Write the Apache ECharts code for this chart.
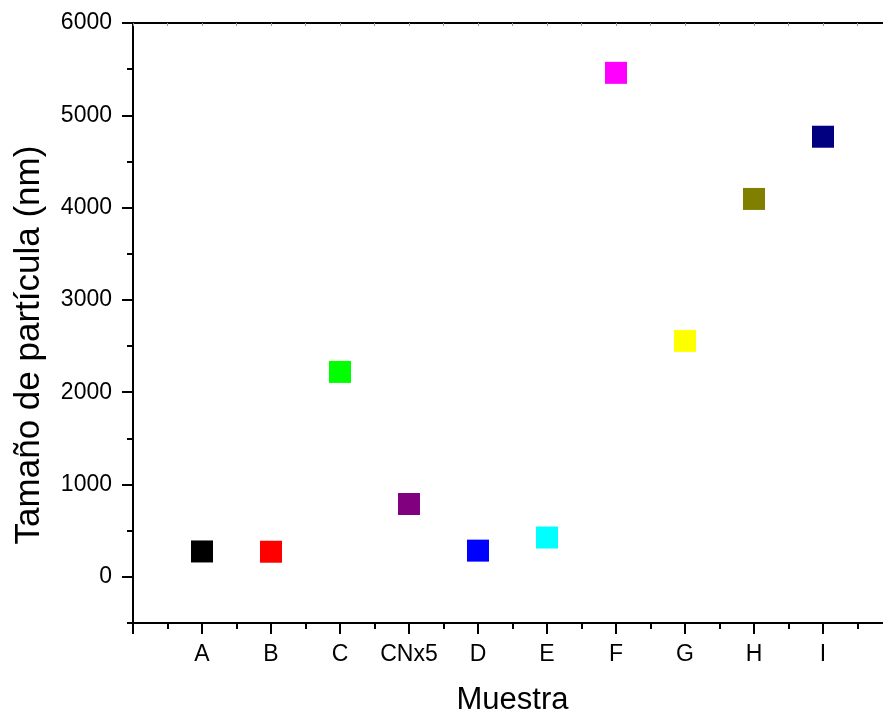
<!DOCTYPE html>
<html><head><meta charset="utf-8">
<script src="https://cdn.jsdelivr.net/npm/echarts@6/dist/echarts.min.js"></script>
<style>html,body{margin:0;padding:0;background:#fff}#c{width:883px;height:721px}</style>
</head><body><div id="c"></div>
<script>
const categories = ['A','B','C','CNx5','D','E','F','G','H','I'];
const sizes = [275, 272, 2220, 789, 284, 426, 5460, 2556, 4094, 4768];
const colors = ['#000000','#ff0000','#00ff00','#800080','#0000ff','#00ffff','#ff00ff','#ffff00','#808000','#000080'];
const yTicks = [0,1000,2000,3000,4000,5000,6000];
const yMinorTicks = [-500,500,1500,2500,3500,4500,5500];

const chart = echarts.init(document.getElementById('c'), null, {renderer:'canvas'});
const font = 'Liberation Sans, Arial, sans-serif';
chart.setOption({
  animation:false,
  backgroundColor:'#fff',
  grid:{left:133, top:23, width:759, height:600, containLabel:false, outerBoundsMode:'none'},
  xAxis:[{
    type:'value', position:'bottom', min:0, max:11, interval:1,
    name:'Muestra', nameLocation:'middle', nameGap:62,
    nameTextStyle:{fontFamily:font, fontSize:31, color:'#000'},
    axisLine:{onZero:false, lineStyle:{color:'#000', width:2}},
    axisTick:{inside:false, length:11, lineStyle:{color:'#000', width:2}},
    minorTick:{show:true, splitNumber:2, length:6, lineStyle:{color:'#000', width:2}},
    splitLine:{show:false},
    axisLabel:{margin:20, fontFamily:font, fontSize:23, color:'#000',
      formatter:v=> (v>=1 && v<=categories.length) ? categories[v-1] : ''}
  },{
    type:'value', position:'top', min:0, max:11, interval:1,
    axisLine:{onZero:false, lineStyle:{color:'#000', width:2}},
    axisTick:{inside:true, length:3, lineStyle:{color:'#999', width:1}},
    minorTick:{show:true, splitNumber:2, length:3, lineStyle:{color:'#999', width:1}},
    splitLine:{show:false}, axisLabel:{show:false}
  }],
  yAxis:[{
    type:'value', position:'left', min:-500, max:6000, interval:500,
    name:'Tamaño de partícula (nm)', nameLocation:'middle', nameGap:86,
    nameTextStyle:{fontFamily:font, fontSize:35, color:'#000', padding:[0,44,0,0]},
    axisLine:{show:true, onZero:false, lineStyle:{color:'#000', width:2}},
    axisTick:{show:true, inside:false, length:11, customValues:yTicks, lineStyle:{color:'#000', width:2}},
    splitLine:{show:false},
    axisLabel:{margin:21, fontFamily:font, fontSize:23, color:'#000', customValues:yTicks,
      formatter:v=>String(v)}
  },{
    type:'value', position:'left', offset:0, min:-500, max:6000, interval:500,
    axisLine:{show:false, onZero:false},
    axisTick:{show:true, inside:false, length:6, customValues:yMinorTicks, lineStyle:{color:'#000', width:2}},
    splitLine:{show:false},
    axisLabel:{show:false}
  }],
  series:[{
    type:'scatter', symbol:'rect', symbolSize:22,
    itemStyle:{opacity:1},
    data: sizes.map((s,i)=>({value:[i+1, s], itemStyle:{color:colors[i], opacity:1}}))
  }]
});
</script></body></html>
